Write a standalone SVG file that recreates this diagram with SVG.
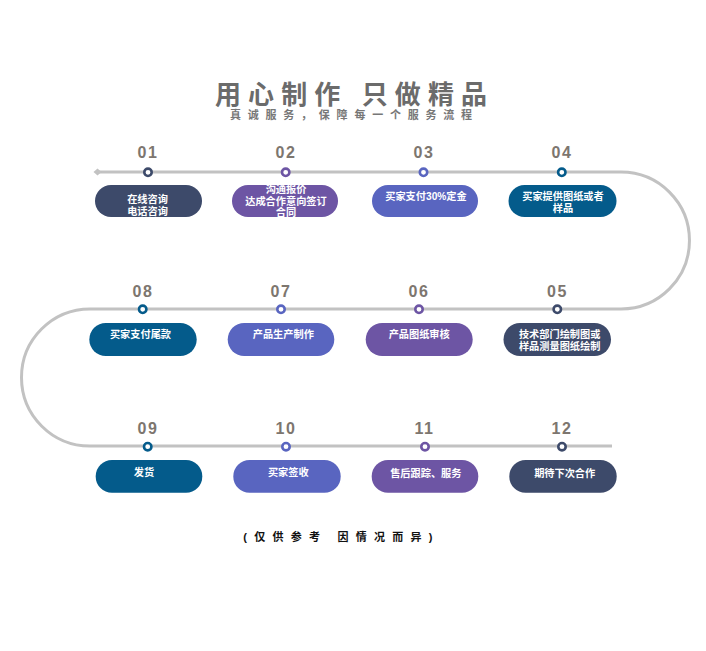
<svg xmlns="http://www.w3.org/2000/svg" width="706" height="651" viewBox="0 0 706 651">
<style>
text{font-family:"Liberation Sans","Noto Sans CJK SC",sans-serif;font-weight:bold}
.num{font-size:16px;fill:#7d766f;text-anchor:middle;letter-spacing:1.5px}
.lbl{font-size:10.2px;fill:#ffffff;text-anchor:middle}
.dot{fill:#ffffff;stroke-width:2.6}
.c1{fill:#3d4a6a}.s1{stroke:#3d4a6a}
.c2{fill:#6d55a4}.s2{stroke:#6d55a4}
.c3{fill:#5965c0}.s3{stroke:#5965c0}
.c4{fill:#045b8b}.s4{stroke:#045b8b}
</style>
<rect width="706" height="651" fill="#ffffff"/>
<g id="title">
<text x="351" y="104" font-size="26" fill="#6b6b6b" text-anchor="middle" textLength="272" lengthAdjust="spacing">用心制作 只做精品</text>
<text x="351" y="118.5" font-size="11" fill="#777777" text-anchor="middle" textLength="242" lengthAdjust="spacing">真诚服务，保障每一个服务流程</text>
</g>
<g id="connectors">
<path d="M97 172 H621 A68.5 68.5 0 0 1 621 309 H90 A68.5 68.5 0 0 0 90 446 H612" fill="none" stroke="#c2c2c2" stroke-width="3"/>
<path d="M93.5 172 L97.5 168.5 L101.5 172 L97.5 175.5 Z" fill="#c2c2c2"/>
</g>
<g id="n01"><text class="num" x="148" y="158">01</text><circle class="dot s1" cx="148" cy="172.3" r="3.7"/><rect class="c1" x="95" y="185" width="107" height="32" rx="16"/><text class="lbl" x="147.5" y="203">在线咨询</text><text class="lbl" x="147.5" y="214.5">电话咨询</text></g>
<g id="n02"><text class="num" x="286" y="158">02</text><circle class="dot s2" cx="285.7" cy="172.3" r="3.7"/><rect class="c2" x="232" y="185" width="106" height="32" rx="16"/><text class="lbl" x="286" y="193">沟通报价</text><text class="lbl" x="286" y="204.5">达成合作意向签订</text><text class="lbl" x="286" y="215.5">合同</text></g>
<g id="n03"><text class="num" x="424" y="158">03</text><circle class="dot s3" cx="423.5" cy="172.3" r="3.7"/><rect class="c3" x="372" y="185" width="106" height="32" rx="16"/><text class="lbl" x="426" y="200">买家支付30%定金</text></g>
<g id="n04"><text class="num" x="562" y="158">04</text><circle class="dot s4" cx="561.8" cy="172.3" r="3.7"/><rect class="c4" x="508.5" y="185" width="108" height="32" rx="16"/><text class="lbl" x="563" y="200">买家提供图纸或者</text><text class="lbl" x="563" y="211.5">样品</text></g>
<g id="n05"><text class="num" x="557.5" y="296.5">05</text><circle class="dot s1" cx="557.3" cy="309.3" r="3.7"/><rect class="c1" x="503.5" y="323" width="107.5" height="33" rx="16.5"/><text class="lbl" x="559.7" y="338">技术部门绘制图或</text><text class="lbl" x="559.7" y="349.5">样品测量图纸绘制</text></g>
<g id="n06"><text class="num" x="419" y="296.5">06</text><circle class="dot s2" cx="419" cy="309.3" r="3.7"/><rect class="c2" x="365.7" y="323" width="107" height="33" rx="16.5"/><text class="lbl" x="419.2" y="338">产品图纸审核</text></g>
<g id="n07"><text class="num" x="281" y="296.5">07</text><circle class="dot s3" cx="281" cy="309.3" r="3.7"/><rect class="c3" x="227.7" y="323" width="106.6" height="33" rx="16.5"/><text class="lbl" x="283.3" y="338">产品生产制作</text></g>
<g id="n08"><text class="num" x="143" y="296.5">08</text><circle class="dot s4" cx="142.7" cy="309.3" r="3.7"/><rect class="c4" x="89.3" y="323" width="107.4" height="33" rx="16.5"/><text class="lbl" x="140.5" y="338">买家支付尾款</text></g>
<g id="n09"><text class="num" x="148" y="434">09</text><circle class="dot s4" cx="147.7" cy="446.7" r="3.7"/><rect class="c4" x="95.7" y="460" width="106.6" height="32.7" rx="16.3"/><text class="lbl" x="144" y="476">发货</text></g>
<g id="n10"><text class="num" x="286" y="434">10</text><circle class="dot s3" cx="286" cy="446.7" r="3.7"/><rect class="c3" x="233.3" y="460" width="107.4" height="32.7" rx="16.3"/><text class="lbl" x="288.3" y="476">买家签收</text></g>
<g id="n11"><text class="num" x="424.5" y="434">11</text><circle class="dot s2" cx="425" cy="446.7" r="3.7"/><rect class="c2" x="371.7" y="460" width="106.6" height="32.7" rx="16.3"/><text class="lbl" x="425.8" y="476.5">售后跟踪、服务</text></g>
<g id="n12"><text class="num" x="562" y="434">12</text><circle class="dot s1" cx="562" cy="446.7" r="3.7"/><rect class="c1" x="509.3" y="460" width="107.4" height="32.7" rx="16.3"/><text class="lbl" x="564.7" y="476.5">期待下次合作</text></g>
<g id="footer">
<text x="337.8" y="540.5" font-size="11" fill="#111111" text-anchor="middle" textLength="189" lengthAdjust="spacing">(仅供参考 因情况而异)</text>
</g>
</svg>
